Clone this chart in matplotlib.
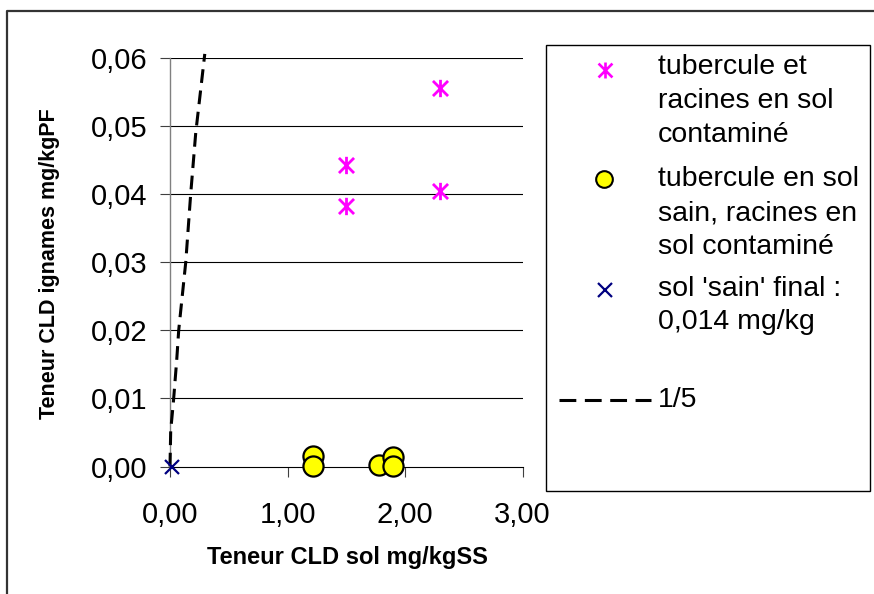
import matplotlib
matplotlib.use("Agg")
import matplotlib.pyplot as plt
from matplotlib.lines import Line2D
from matplotlib.patches import Rectangle
from matplotlib.path import Path
from matplotlib.ticker import FuncFormatter

plt.rcParams['font.family'] = ['Liberation Sans', 'DejaVu Sans']

# ---- data ----
contam_x = [1.5, 1.5, 2.3, 2.3]
contam_y = [0.0443, 0.0383, 0.0556, 0.0405]

sain_x = [1.22, 1.22, 1.78, 1.90, 1.90]
sain_y = [0.0016, 0.0001, 0.0002, 0.0014, 0.0001]

final_x = [0.014]
final_y = [0.0]

ratio_x = [0.0, 0.006, 0.028, 0.057, 0.074, 0.134, 0.176, 0.219, 0.296]
ratio_y = [0.0, 0.0053, 0.0093, 0.0156, 0.020, 0.030, 0.040, 0.049, 0.0606]

x_ticks = [0, 1, 2, 3]
y_ticks = [0.00, 0.01, 0.02, 0.03, 0.04, 0.05, 0.06]

legend_labels = [
    ["tubercule et", "racines en sol", "contaminé"],
    ["tubercule en sol", "sain, racines en", "sol contaminé"],
    ["sol 'sain' final :", "0,014 mg/kg"],
    ["1/5"],
]

W, H = 874, 594
fig = plt.figure(figsize=(W / 100, H / 100), dpi=100)
fig.patch.set_facecolor('white')

def fx(px):
    return px / W

def fy(py):
    return 1 - py / H

# star (asterisk) marker: X plus vertical bar
star = Path([(-1, -1), (1, 1), (-1, 1), (1, -1), (0, -1.15), (0, 1.15)],
            [Path.MOVETO, Path.LINETO, Path.MOVETO, Path.LINETO, Path.MOVETO, Path.LINETO])

ax = fig.add_axes([fx(170), fy(466.5), fx(522.5 - 170), (466.5 - 58) / H])
ax.set_xlim(0, 3)
ax.set_ylim(0, 0.06)
ax.set_facecolor('white')

for t in y_ticks[1:]:
    ax.axhline(t, color='#000000', lw=0.8, zorder=1)

ax.plot(ratio_x, ratio_y, color='black', lw=2.2, dashes=(4.5, 2.5), clip_on=False, zorder=3)
ax.plot(contam_x, contam_y, linestyle='none', marker=star, markersize=12.5,
        markeredgecolor='#FF00FF', markerfacecolor='none', markeredgewidth=2.0, clip_on=False, zorder=4)
for xv, yv in zip(sain_x, sain_y):
    ax.plot([xv], [yv], linestyle='none', marker='o', markersize=14.5,
            markerfacecolor='#FFFF00', markeredgecolor='black', markeredgewidth=1.6,
            clip_on=False, zorder=4)
ax.plot(final_x, final_y, linestyle='none', marker='x', markersize=10,
        markeredgecolor='#000080', markeredgewidth=1.6, clip_on=False, zorder=5)

for s in ['top', 'right']:
    ax.spines[s].set_visible(False)
ax.spines['left'].set_color('#808080')
ax.spines['left'].set_linewidth(1.0)
ax.spines['bottom'].set_color('#000000')
ax.spines['bottom'].set_linewidth(0.8)

ax.set_xticks(x_ticks)
ax.set_yticks(y_ticks)
ax.xaxis.set_major_formatter(FuncFormatter(lambda v, p: f"{v:.2f}".replace('.', ',')))
ax.yaxis.set_major_formatter(FuncFormatter(lambda v, p: f"{v:.2f}".replace('.', ',')))
ax.tick_params(axis='both', direction='out', length=7, width=0.8, color='#404040', labelsize=21)
ax.tick_params(axis='y', pad=9)
ax.tick_params(axis='x', pad=18)

fig.text(fx(347), fy(564), "Teneur CLD sol mg/kgSS", fontsize=17, fontweight='bold',
         ha='center', va='baseline')
fig.text(fx(49.5), fy(264), "Teneur CLD ignames mg/kgPF", fontsize=15.5, fontweight='bold',
         ha='center', va='center', rotation=90)

# legend box
fig.add_artist(Rectangle((fx(545.7), fy(490.7)), fx(870 - 545.7), (490.7 - 45) / H,
                         transform=fig.transFigure, fill=False, edgecolor='#000000', lw=1.0))
# outer chart border (left and top)
fig.add_artist(Line2D([fx(7), fx(7), 1.01], [-0.01, fy(11), fy(11)], transform=fig.transFigure,
                      color='#333333', lw=1.6))

lx = fx(658)
baselines = [[74.3, 108.3, 141.7], [186, 220, 254], [296, 329], [406.7]]
for lines, bl in zip(legend_labels, baselines):
    for txt, b in zip(lines, bl):
        fig.text(lx, fy(b), txt, fontsize=20.5, ha='left', va='baseline')

fig.add_artist(Line2D([fx(605)], [fy(69.5)], transform=fig.transFigure, linestyle='none',
                      marker=star, markersize=11.5, markeredgecolor='#FF00FF',
                      markerfacecolor='none', markeredgewidth=1.9))
fig.add_artist(Line2D([fx(604)], [fy(179.3)], transform=fig.transFigure, linestyle='none',
                      marker='o', markersize=12, markerfacecolor='#FFFF00',
                      markeredgecolor='black', markeredgewidth=1.5))
fig.add_artist(Line2D([fx(605)], [fy(290)], transform=fig.transFigure, linestyle='none',
                      marker='x', markersize=10, markeredgecolor='#000080', markeredgewidth=1.6))
fig.add_artist(Line2D([fx(559), fx(651)], [fy(400), fy(400)], transform=fig.transFigure,
                      color='black', lw=2.2, dashes=(5.5, 2.8)))

fig.savefig('out.png', dpi=100, facecolor='white')
